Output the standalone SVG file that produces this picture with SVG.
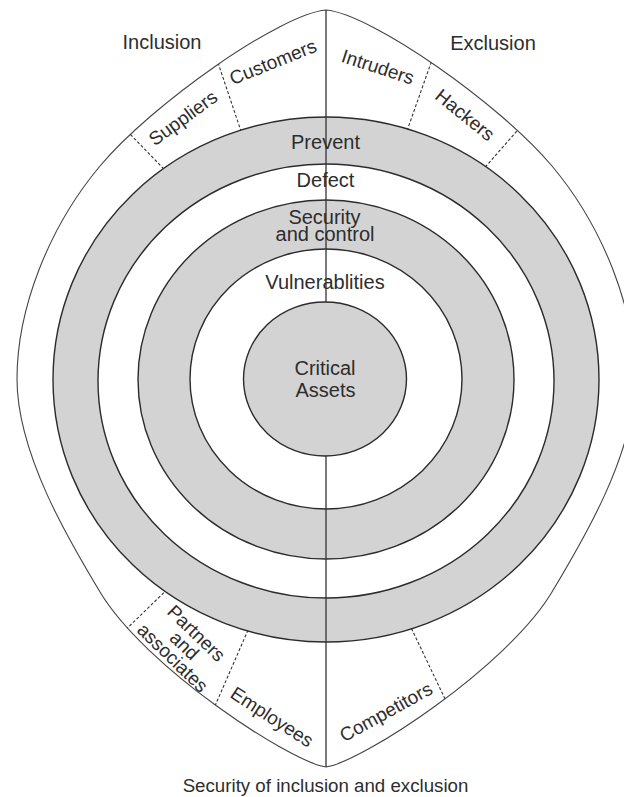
<svg xmlns="http://www.w3.org/2000/svg" width="624" height="797" viewBox="0 0 624 797">
  <style>
    .lens { fill: #ffffff; stroke: #444444; stroke-width: 1.1; }
    .ring-gray { fill: #d3d3d3; stroke: #2b2b2b; stroke-width: 1.4; }
    .ring-white { fill: #ffffff; stroke: #2b2b2b; stroke-width: 1.4; }
    .axis { stroke: #333333; stroke-width: 1.3; fill: none; }
    .divider { stroke: #333333; stroke-width: 1.1; stroke-dasharray: 3 2; fill: none; }
    text { font-family: "Liberation Sans", Arial, sans-serif; fill: #2d2d2d; }
    .lbl { font-size: 20px; text-anchor: middle; }
    .seg { font-size: 19px; text-anchor: middle; }
    .cap { font-size: 18.7px; text-anchor: middle; }
  </style>
  <defs>
    <path id="lens-shape" d="M326,10 C280,14 151.5,104.5 100,166 C48.5,227.5 17,309 17,379 C17,454 70,542 100,592 C145,667 290,762 326,767 C362,762 507,667 552,592 C582,542 635,454 635,379 C635,309 603.5,227.5 552,166 C500.5,104.5 372,14 326,10 Z"/>
    <clipPath id="lens-clip">
      <use href="#lens-shape"/>
    </clipPath>
  </defs>

  <!-- outer lens: inclusion (left) and exclusion (right) band -->
  <g id="lens">
    <use href="#lens-shape" class="lens"/>
  </g>

  <!-- dashed sector dividers in the outer band -->
  <g id="connectors" clip-path="url(#lens-clip)">
    <line class="divider" x1="113" y1="116.5" x2="175" y2="180.5"/>
    <line class="divider" x1="210" y1="39" x2="246" y2="146"/>
    <line class="divider" x1="438" y1="43" x2="402" y2="145"/>
    <line class="divider" x1="530" y1="116" x2="474" y2="180"/>
    <line class="divider" x1="115" y1="640" x2="178" y2="579"/>
    <line class="divider" x1="205" y1="729" x2="255" y2="614"/>
    <line class="divider" x1="458" y1="726" x2="404" y2="613"/>
  </g>

  <!-- concentric rings -->
  <g id="ring-prevent">
    <ellipse class="ring-gray" cx="326" cy="379.5" rx="273" ry="262.5"/>
  </g>
  <g id="ring-defect">
    <ellipse class="ring-white" cx="326" cy="381" rx="228" ry="217"/>
  </g>
  <g id="ring-security">
    <ellipse class="ring-gray" cx="326" cy="379.5" rx="188" ry="179.5"/>
  </g>
  <g id="ring-vulnerabilities">
    <ellipse class="ring-white" cx="326" cy="379" rx="136" ry="130"/>
  </g>

  <!-- inclusion / exclusion axis -->
  <g id="axis">
    <line class="axis" x1="326" y1="10" x2="326" y2="767"/>
  </g>

  <g id="critical-assets">
    <ellipse class="ring-gray" cx="325" cy="379" rx="81.5" ry="77"/>
    <text class="lbl" x="325" y="374.5">Critical</text>
    <text class="lbl" x="325.5" y="396.5">Assets</text>
  </g>

  <!-- ring labels -->
  <g id="label-prevent"><text class="lbl" x="325.5" y="149">Prevent</text></g>
  <g id="label-defect"><text class="lbl" x="325.5" y="187">Defect</text></g>
  <g id="label-security">
    <text class="lbl" x="324.5" y="223.5">Security</text>
    <text class="lbl" x="325" y="241">and control</text>
  </g>
  <g id="label-vulnerabilities"><text class="lbl" x="325" y="289">Vulnerablities</text></g>

  <!-- side headings -->
  <g id="heading-inclusion"><text class="lbl" x="162" y="49">Inclusion</text></g>
  <g id="heading-exclusion"><text class="lbl" x="493" y="49.5">Exclusion</text></g>

  <!-- outer band sectors -->
  <g id="sector-customers"><text class="seg" transform="translate(273,62) rotate(-22)" x="0" y="6.5">Customers</text></g>
  <g id="sector-suppliers"><text class="seg" transform="translate(183,118) rotate(-36)" x="0" y="6.5">Suppliers</text></g>
  <g id="sector-intruders"><text class="seg" transform="translate(378,67) rotate(18)" x="0" y="6.5">Intruders</text></g>
  <g id="sector-hackers"><text class="seg" transform="translate(465,115) rotate(39)" x="0" y="6.5">Hackers</text></g>
  <g id="sector-employees"><text class="seg" transform="translate(272,717) rotate(33)" x="0" y="6.5">Employees</text></g>
  <g id="sector-competitors"><text class="seg" transform="translate(386,712) rotate(-29)" x="0" y="6.5">Competitors</text></g>
  <g id="sector-partners" transform="translate(184.5,645.5) rotate(44)">
    <text class="seg" x="0" y="-10.5">Partners</text>
    <text class="seg" x="0" y="6.5">and</text>
    <text class="seg" x="0" y="23.5">associates</text>
  </g>

  <g id="caption"><text class="cap" x="325.5" y="792">Security of inclusion and exclusion</text></g>
</svg>
